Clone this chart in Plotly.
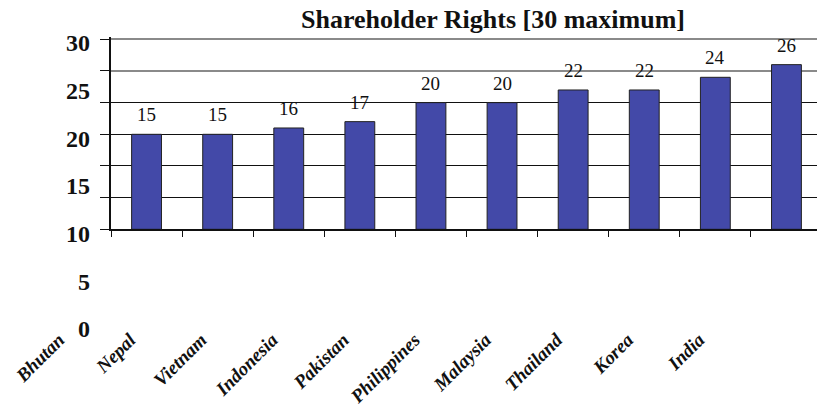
import plotly.graph_objects as go

categories = ["Bhutan", "Nepal", "Vietnam", "Indonesia", "Pakistan",
              "Philippines", "Malaysia", "Thailand", "Korea", "India"]
values = [15, 15, 16, 17, 20, 20, 22, 22, 24, 26]
y_ticks = [0, 5, 10, 15, 20, 25, 30]
title_text = "Shareholder Rights [30 maximum]"

W, H = 817, 413
def px(x):
    return x / W
def py(y):
    return 1 - y / H

slot = 71.1
serif = "Liberation Serif"

# main plot: value 0 at y=229.3 px, value 30 at y=39.3 px; range a bit past 30 so the top grid line is kept
y_bottom, y_top30 = 229.3, 39.3
unit = (y_bottom - y_top30) / 30.0
y_max = 30.3
y_top = y_bottom - y_max * unit

fig = go.Figure()
fig.add_trace(go.Bar(
    x=categories, y=values, xaxis="x", yaxis="y",
    marker=dict(color="#4349A8", line=dict(color="#222222", width=1)),
    width=0.42, hoverinfo="skip", showlegend=False,
))
fig.add_trace(go.Scatter(x=categories, y=[None] * len(categories), xaxis="x", yaxis="y3",
                         mode="markers", marker=dict(opacity=0), hoverinfo="skip",
                         showlegend=False))
fig.add_trace(go.Scatter(x=categories, y=[None] * len(categories), xaxis="x2", yaxis="y2",
                         mode="markers", marker=dict(opacity=0), hoverinfo="skip",
                         showlegend=False))

annotations = []
for c, v in zip(categories, values):
    annotations.append(dict(x=c, y=v, xref="x", yref="y", text=str(v), showarrow=False,
                            yanchor="bottom", yshift=7,
                            font=dict(family=serif, size=19, color="#111111")))
annotations.append(dict(x=px(493), y=py(20), xref="paper", yref="paper", text="<b>" + title_text + "</b>",
                        showarrow=False, xanchor="center", yanchor="middle",
                        font=dict(family=serif, size=26, color="#111111")))

x0 = 111
fig.update_layout(
    width=W, height=H,
    margin=dict(l=0, r=0, t=0, b=0, pad=0, autoexpand=False),
    paper_bgcolor="white", plot_bgcolor="rgba(0,0,0,0)",
    showlegend=False,
    xaxis=dict(domain=[px(x0), 1], anchor="y", type="category", categoryarray=categories,
               range=[-0.5, -0.5 + (W - x0) / slot], tickson="boundaries",
               ticks="outside", ticklen=6, tickcolor="#111111", showticklabels=False,
               showline=True, linecolor="#111111", linewidth=1.5, showgrid=False,
               automargin=False, fixedrange=True),
    yaxis=dict(domain=[py(y_bottom), py(y_top)], anchor="x", range=[0, y_max],
               tickvals=y_ticks, showticklabels=False, ticks="outside", ticklen=9,
               tickcolor="#111111", showline=True, linecolor="#111111", linewidth=1.5,
               showgrid=True, gridcolor="#111111", gridwidth=1, zeroline=False,
               automargin=False, fixedrange=True),
    yaxis3=dict(overlaying="y", anchor="x", range=[0, y_max], tickvals=[25, 30],
                showticklabels=False, ticks="", showline=False, showgrid=True,
                gridcolor="#8a8a8a", gridwidth=2, zeroline=False, automargin=False,
                fixedrange=True),
    xaxis2=dict(domain=[0, 1], anchor="free", position=py(324), type="category",
                categoryarray=categories,
                range=[-59 / slot, -59 / slot + W / slot], tickangle=-45,
                ticks="", showline=False, showgrid=False, zeroline=False,
                tickfont=dict(family=serif, size=19, color="#111111"),
                tickvals=categories, ticktext=["<b><i>" + c + "</i></b>" for c in categories],
                automargin=False, fixedrange=True),
    yaxis2=dict(domain=[py(329), py(43)], anchor="free", position=px(90), side="left",
                range=[0, 30], tickvals=y_ticks, ticks="", showline=False, showgrid=False,
                zeroline=False,
                tickfont=dict(family=serif, size=24, color="#111111"),
                ticktext=["<b>" + str(t) + "</b>" for t in y_ticks],
                automargin=False, fixedrange=True),
    annotations=annotations,
)

fig.write_html("out.html", config=dict(displayModeBar=False),
               post_script="document.body.style.margin='0';document.body.style.overflow='hidden';")
